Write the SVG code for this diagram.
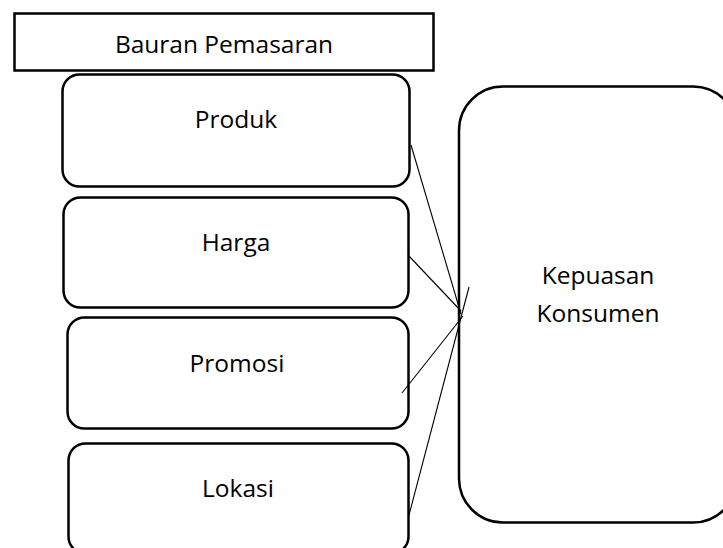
<svg xmlns="http://www.w3.org/2000/svg" width="723" height="548" viewBox="0 0 723 548">
<style>
.box{fill:#fff;stroke:#000;stroke-width:2.5}
.lbl{font-family:"Open Sans","Noto Sans",sans-serif;font-size:24.5px;fill:#000;text-anchor:middle}
.con{stroke:#000;stroke-width:1.1;fill:none}
</style>
<rect width="723" height="548" fill="#fff"/>
<g id="bauran">
<rect class="box" x="14.5" y="13.5" width="419" height="57" rx="0"/>
<text class="lbl" x="224" y="53">Bauran Pemasaran</text>
</g>
<g id="produk">
<rect class="box" x="62.5" y="74.5" width="347" height="112" rx="17"/>
<text class="lbl" x="236" y="128">Produk</text>
</g>
<g id="harga">
<rect class="box" x="63.5" y="197.5" width="345" height="110" rx="17"/>
<text class="lbl" x="236" y="251">Harga</text>
</g>
<g id="promosi">
<rect class="box" x="67.5" y="317.5" width="341" height="111" rx="17"/>
<text class="lbl" x="237" y="372">Promosi</text>
</g>
<g id="lokasi">
<rect class="box" x="68.5" y="443.5" width="340" height="110" rx="17"/>
<text class="lbl" x="238" y="497">Lokasi</text>
</g>
<g id="kepuasan">
<rect class="box" x="459" y="86.5" width="278" height="436" rx="44"/>
<text class="lbl" x="598" y="284">Kepuasan</text>
<text class="lbl" x="598" y="322">Konsumen</text>
</g>
<g id="connectors">
<line class="con" x1="411" y1="145" x2="461" y2="314"/>
<line class="con" x1="408" y1="255" x2="461" y2="311"/>
<line class="con" x1="402" y1="393" x2="463" y2="316"/>
<line class="con" x1="409" y1="515" x2="469" y2="287"/>
</g>
</svg>
